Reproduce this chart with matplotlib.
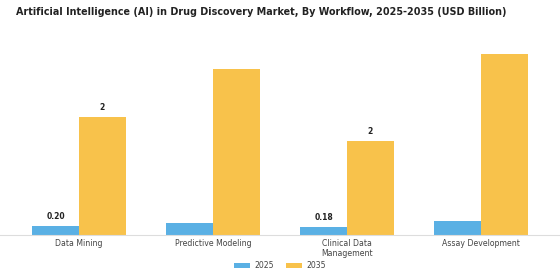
import matplotlib.pyplot as plt
import numpy as np

categories = ["Data Mining", "Predictive Modeling", "Clinical Data\nManagement", "Assay Development"]
values_2025 = [0.20, 0.27, 0.18, 0.31]
values_2035 = [2.62, 3.67, 2.09, 4.02]
labels_2025 = ["0.20", "", "0.18", ""]
labels_2035 = ["2", "", "2", ""]

blue = "#5AB0E4"
yellow = "#F8C24B"

fig = plt.figure(figsize=(5.6, 2.8), dpi=100)
ax = fig.add_axes([0.0, 0.161, 1.0, 0.68])

ind = np.arange(len(categories))
width = 0.35

b1 = ax.bar(ind - width / 2, values_2025, width, color=blue, label="2025")
b2 = ax.bar(ind + width / 2, values_2035, width, color=yellow, label="2035")

for bars, labs in [(b1, labels_2025), (b2, labels_2035)]:
    for rect, lab in zip(bars, labs):
        if lab:
            ax.annotate(lab, (rect.get_x() + rect.get_width() / 2, rect.get_height()),
                        xytext=(0, 3.5), textcoords="offset points", ha="center", va="bottom",
                        fontsize=5.5, fontweight="bold", color="#222222")

ax.set_xlim(-0.59, 3.59)
ax.set_ylim(0, 4.22)
ax.set_xticks(ind)
ax.set_xticklabels(categories, fontsize=5.6, color="#444444", linespacing=1.2)
ax.tick_params(axis="x", length=0, pad=3)
ax.set_yticks([])
for s in ["left", "right", "top"]:
    ax.spines[s].set_visible(False)
ax.spines["bottom"].set_color("#dddddd")
ax.spines["bottom"].set_linewidth(0.8)

fig.suptitle("Artificial Intelligence (AI) in Drug Discovery Market, By Workflow, 2025-2035 (USD Billion)",
             x=0.467, y=0.975, fontsize=6.9, fontweight="bold", color="#222222")

fig.legend(handles=[b1, b2], loc="lower center", bbox_to_anchor=(0.5, 0.01), ncol=2,
           frameon=False, fontsize=5.6, handlelength=2.0, handleheight=0.5,
           handletextpad=0.6, columnspacing=1.6, labelcolor="#444444")

fig.savefig("out.png", dpi=100)
